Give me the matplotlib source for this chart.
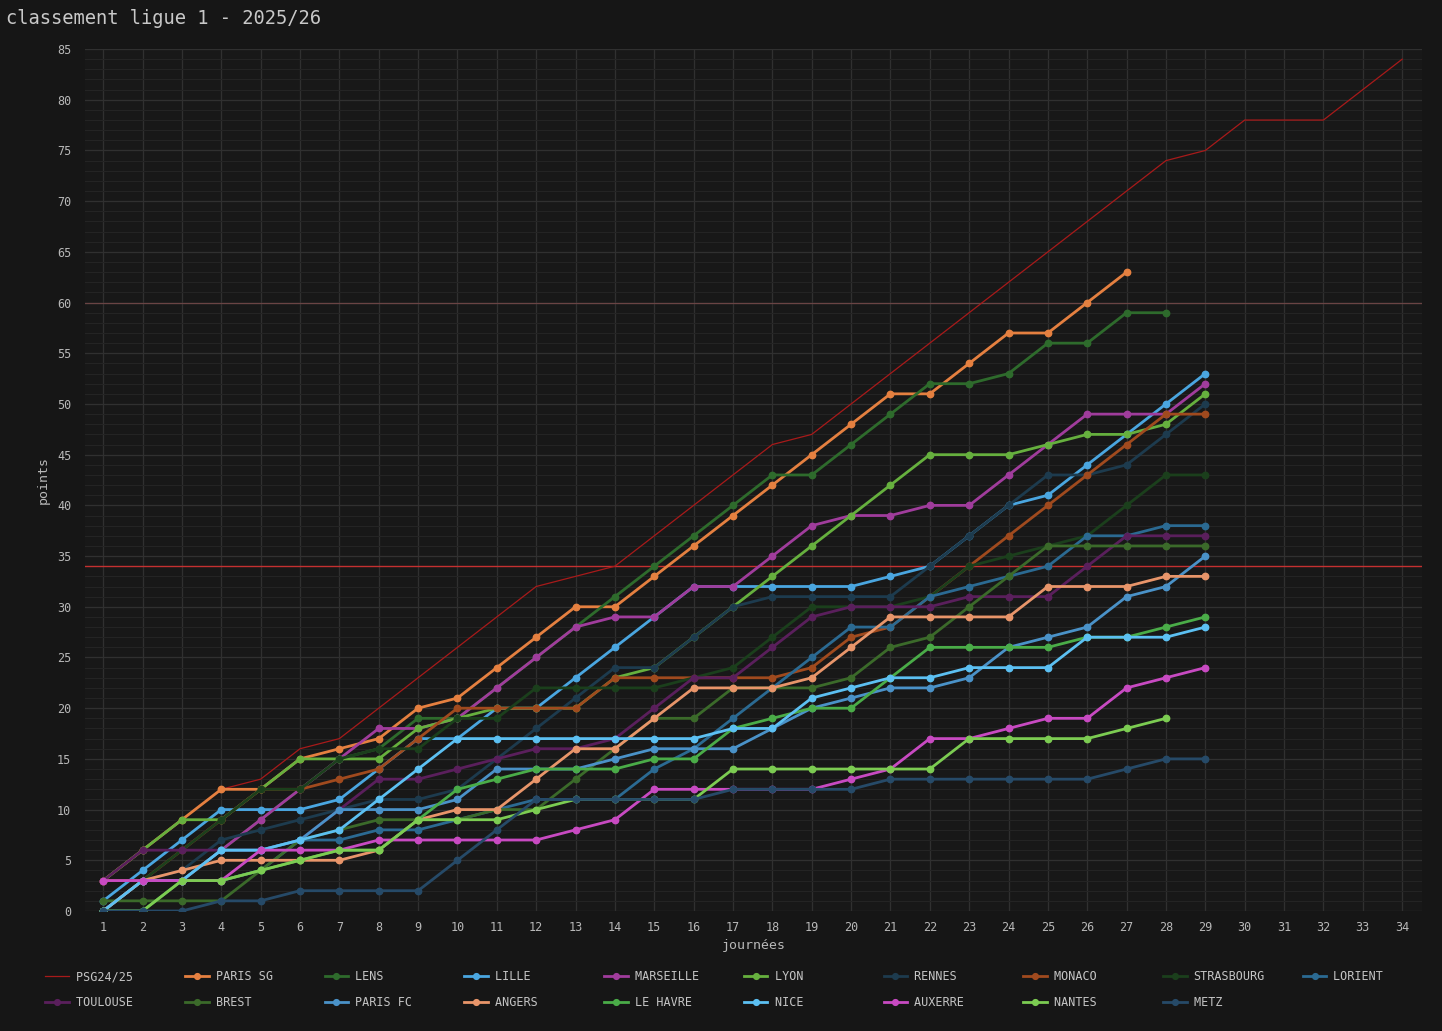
import matplotlib
matplotlib.use('Agg')
import matplotlib.pyplot as plt
from matplotlib.ticker import MultipleLocator

# points after each matchday
psg_2425 = [3, 6, 9, 12, 13, 16, 17, 20, 23, 26, 29, 32, 33, 34, 37, 40, 43, 46, 47, 50,
            53, 56, 59, 62, 65, 68, 71, 74, 75, 78, 78, 78, 81, 84]
paris_sg = [3, 6, 9, 12, 12, 15, 16, 17, 20, 21, 24, 27, 30, 30, 33, 36, 39, 42, 45, 48,
            51, 51, 54, 57, 57, 60, 63]
lens = [0, 3, 3, 6, 9, 12, 15, 16, 19, 19, 22, 25, 28, 31, 34, 37, 40, 43, 43, 46,
        49, 52, 52, 53, 56, 56, 59, 59]
lille = [1, 4, 7, 10, 10, 10, 11, 14, 17, 17, 20, 20, 23, 26, 29, 32, 32, 32, 32, 32,
         33, 34, 37, 40, 41, 44, 47, 50, 53]
marseille = [0, 3, 3, 6, 9, 12, 15, 18, 18, 19, 22, 25, 28, 29, 29, 32, 32, 35, 38, 39,
             39, 40, 40, 43, 46, 49, 49, 49, 52]
lyon = [3, 6, 9, 9, 12, 15, 15, 15, 18, 19, 20, 20, 20, 23, 24, 27, 30, 33, 36, 39,
        42, 45, 45, 45, 46, 47, 47, 48, 51]
rennes = [3, 3, 4, 7, 8, 9, 10, 11, 11, 12, 15, 18, 21, 24, 24, 27, 30, 31, 31, 31,
          31, 34, 37, 40, 43, 43, 44, 47, 50]
monaco = [3, 3, 6, 9, 12, 12, 13, 14, 17, 20, 20, 20, 20, 23, 23, 23, 23, 23, 24, 27,
          28, 31, 34, 37, 40, 43, 46, 49, 49]
strasbourg = [0, 3, 6, 9, 12, 12, 15, 16, 16, 19, 19, 22, 22, 22, 22, 23, 24, 27, 30, 30,
              30, 31, 34, 35, 36, 37, 40, 43, 43]
lorient = [0, 3, 3, 3, 4, 7, 7, 8, 8, 9, 10, 11, 11, 11, 14, 16, 19, 22, 25, 28,
           28, 31, 32, 33, 34, 37, 37, 38, 38]
toulouse = [3, 6, 6, 6, 6, 7, 10, 13, 13, 14, 15, 16, 16, 17, 20, 23, 23, 26, 29, 30,
            30, 30, 31, 31, 31, 34, 37, 37, 37]
brest = [1, 1, 1, 1, 4, 7, 8, 9, 9, 9, 10, 10, 13, 16, 19, 19, 22, 22, 22, 23,
         26, 27, 30, 33, 36, 36, 36, 36, 36]
paris_fc = [0, 3, 3, 6, 6, 7, 10, 10, 10, 11, 14, 14, 14, 15, 16, 16, 16, 18, 20, 21,
            22, 22, 23, 26, 27, 28, 31, 32, 35]
angers = [0, 3, 4, 5, 5, 5, 5, 6, 9, 10, 10, 13, 16, 16, 19, 22, 22, 22, 23, 26,
          29, 29, 29, 29, 32, 32, 32, 33, 33]
le_havre = [0, 0, 3, 3, 4, 5, 6, 6, 9, 12, 13, 14, 14, 14, 15, 15, 18, 19, 20, 20,
            23, 26, 26, 26, 26, 27, 27, 28, 29]
nice = [0, 3, 3, 6, 6, 7, 8, 11, 14, 17, 17, 17, 17, 17, 17, 17, 18, 18, 21, 22,
        23, 23, 24, 24, 24, 27, 27, 27, 28]
auxerre = [3, 3, 3, 3, 6, 6, 6, 7, 7, 7, 7, 7, 8, 9, 12, 12, 12, 12, 12, 13,
           14, 17, 17, 18, 19, 19, 22, 23, 24]
nantes = [0, 0, 3, 3, 4, 5, 6, 6, 9, 9, 9, 10, 11, 11, 11, 11, 14, 14, 14, 14,
          14, 14, 17, 17, 17, 17, 18, 19]
metz = [0, 0, 0, 1, 1, 2, 2, 2, 2, 5, 8, 11, 11, 11, 11, 11, 12, 12, 12, 12,
        13, 13, 13, 13, 13, 13, 14, 15, 15]

teams = [
    ('PARIS SG', paris_sg, '#e58040'),
    ('LENS', lens, '#2e6b2c'),
    ('LILLE', lille, '#4aa6e0'),
    ('MARSEILLE', marseille, '#a03c9c'),
    ('LYON', lyon, '#66b03e'),
    ('RENNES', rennes, '#1d3b4e'),
    ('MONACO', monaco, '#a04a1e'),
    ('STRASBOURG', strasbourg, '#1b3f1c'),
    ('LORIENT', lorient, '#2b6a92'),
    ('TOULOUSE', toulouse, '#5a1f5c'),
    ('BREST', brest, '#3b6a2a'),
    ('PARIS FC', paris_fc, '#4a92c8'),
    ('ANGERS', angers, '#e8956a'),
    ('LE HAVRE', le_havre, '#4aac48'),
    ('NICE', nice, '#5cc0f2'),
    ('AUXERRE', auxerre, '#c84ac2'),
    ('NANTES', nantes, '#7ccc52'),
    ('METZ', metz, '#264a68'),
]

plt.rcParams['font.family'] = 'DejaVu Sans Mono'
fig = plt.figure(figsize=(14.42, 10.31), dpi=100, facecolor='#161616')
ax = fig.add_axes([0.059, 0.1164, 0.927, 0.836])
ax.set_facecolor('#181818')

ax.plot(range(1, len(psg_2425) + 1), psg_2425, color='#a81a1a', lw=0.9, label='PSG24/25', zorder=2)
for name, pts, col in teams:
    ax.plot(range(1, len(pts) + 1), pts, color=col, lw=2.0, marker='o', ms=4.6,
            label=name, zorder=3)

ax.axhline(60, color='#6a4444', lw=0.9, zorder=1)
ax.axhline(34, color='#c43030', lw=1, zorder=1)

ax.set_xlim(0.54, 34.5)
ax.set_ylim(0, 85)
ax.set_xticks(range(1, 35))
ax.yaxis.set_major_locator(MultipleLocator(5))
ax.yaxis.set_minor_locator(MultipleLocator(1))
ax.grid(which='major', color='#303030', lw=0.9)
ax.grid(which='minor', axis='y', color='#242424', lw=0.8)
ax.set_axisbelow(True)
for s in ax.spines.values():
    s.set_visible(False)
ax.tick_params(which='both', length=0, colors='#b8b8b8', labelsize=8.5)
ax.tick_params(axis='x', pad=7)
ax.tick_params(axis='y', pad=10)
ax.set_xlabel('journées', color='#b8b8b8', fontsize=9.5, labelpad=4)
ax.set_ylabel('points', color='#b8b8b8', fontsize=9.5, labelpad=5)

fig.text(0.004, 0.982, 'classement ligue 1 - 2025/26', color='#c8c8c8', fontsize=13.5,
         va='center', ha='left')

# legend filled row by row: 10 columns, 2 rows
handles, labels = ax.get_legend_handles_labels()
labels = [l.ljust(10) for l in labels]
order = []
for j in range(10):
    order.append(j)
    if j + 10 < len(labels):
        order.append(j + 10)
leg = fig.legend([handles[i] for i in order], [labels[i] for i in order],
                 loc='upper left', bbox_to_anchor=(0.024, 0.069), ncol=10,
                 frameon=False, fontsize=8.5, handlelength=2.0, handletextpad=0.6,
                 columnspacing=3.2, labelspacing=1.1, markerscale=0.9)
for t in leg.get_texts():
    t.set_color('#c4c4c4')

fig.savefig('out.png', dpi=100, facecolor=fig.get_facecolor())
